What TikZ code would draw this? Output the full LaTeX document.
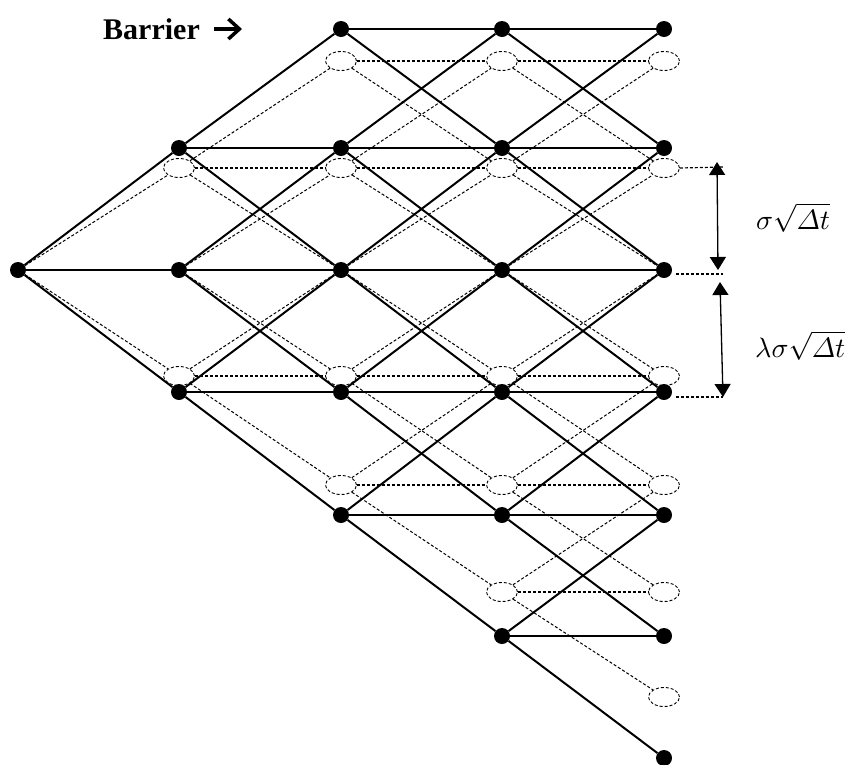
\documentclass[tikz,border=0pt]{standalone}
\usepackage{fontspec}
\setmainfont{Liberation Serif}
\usetikzlibrary{shapes.geometric,arrows.meta}
\begin{document}
\begin{tikzpicture}[x=1pt,y=-1pt,
  sdot/.style={circle,fill=black,inner sep=0pt,minimum size=16pt},
  ghost/.style={circle,inner sep=0pt,minimum size=16pt},
  ell/.style={ellipse,draw,dash pattern=on 3pt off 2pt,line width=0.9pt,inner sep=0pt,minimum width=31pt,minimum height=19pt},
  sedge/.style={line width=2pt},
  dedge/.style={line width=1pt,dash pattern=on 3pt off 2pt},
  dhor/.style={line width=1.2pt,dash pattern=on 3pt off 2pt},
  dimarrow/.style={line width=1.3pt,{Triangle[length=13pt,width=16pt]}-{Triangle[length=13pt,width=16pt]}},
  ext/.style={line width=1.2pt,dash pattern=on 3pt off 2pt},
  lab/.style={inner sep=0pt,anchor=base west}
]
\useasboundingbox (0,0) rectangle (846,764);

% nodes: solid lattice (s) and dashed lattice (e)
\foreach \c/\x/\lo/\hi in {0/18/2/2,1/179/1/3,2/341/0/4,3/502/0/5,4/664/0/6}{
  \foreach \i/\ys/\yd in {0/29/61,1/148/168,2/270/270,3/392/376,4/515/485,5/636/592,6/758/697}{
    \ifnum\i<\lo\relax\else\ifnum\i>\hi\relax\else
      \node[sdot] (s\c\i) at (\x,\ys) {};
      \ifnum\i=2\relax
        \node[ghost] (e\c\i) at (\x,\yd) {};
      \else
        \node[ell] (e\c\i) at (\x,\yd) {};
      \fi
    \fi\fi
  }
}

% edges
\foreach \c/\lo/\hi in {0/2/2,1/1/3,2/0/4,3/0/5}{
  \foreach \i in {\lo,...,\hi}{
    \pgfmathtruncatemacro\nxc{\c+1}
    \pgfmathtruncatemacro\upl{\i-1}
    \pgfmathtruncatemacro\dwl{\i+1}
    \ifnum\i>0\relax
      \draw[dedge] (e\c\i) -- (e\nxc\upl);
    \fi
    \ifnum\i=2\relax\else
      \draw[dhor] (e\c\i) -- (e\nxc\i);
    \fi
    \draw[dedge] (e\c\i) -- (e\nxc\dwl);
  }
}
\foreach \c/\lo/\hi in {0/2/2,1/1/3,2/0/4,3/0/5}{
  \foreach \i in {\lo,...,\hi}{
    \pgfmathtruncatemacro\nxc{\c+1}
    \pgfmathtruncatemacro\upl{\i-1}
    \pgfmathtruncatemacro\dwl{\i+1}
    \ifnum\i>0\relax
      \draw[sedge] (s\c\i) -- (s\nxc\upl);
    \fi
    \draw[sedge] (s\c\i) -- (s\nxc\i);
    \draw[sedge] (s\c\i) -- (s\nxc\dwl);
  }
}

% dimension lines
\coordinate (x1) at (724,167);
\coordinate (x2a) at (676,274);
\coordinate (x2) at (723,274);
\coordinate (x3a) at (676,397);
\coordinate (x3) at (723,397);
\draw[ext] (e41.east) -- (x1);
\draw[ext] (x2a) -- (x2);
\draw[ext] (x3a) -- (x3);
\coordinate (a1) at (717,162);
\coordinate (a2) at (718,270);
\coordinate (a3) at (720,282);
\coordinate (a4) at (723,397);
\draw[dimarrow] (a1) -- (a2);
\draw[dimarrow] (a3) -- (a4);
\node[lab] (l1) at (756,229) {\scalebox{2.8}{$\sigma\sqrt{\mathnormal{\Delta} t}$}};
\node[lab] (l2) at (755,357) {\scalebox{2.8}{$\lambda\sigma\sqrt{\mathnormal{\Delta} t}$}};

% barrier label
\node[inner sep=0pt,anchor=base west,font=\fontsize{30}{36}\selectfont\bfseries] (bar) at (103,39) {Barrier};
\coordinate (ba1) at (214,29);
\coordinate (ba2) at (242,29);
\draw[line width=3.5pt,-{Straight Barb[length=11pt,width=20pt]}] (ba1) -- (ba2);
\end{tikzpicture}
\end{document}
